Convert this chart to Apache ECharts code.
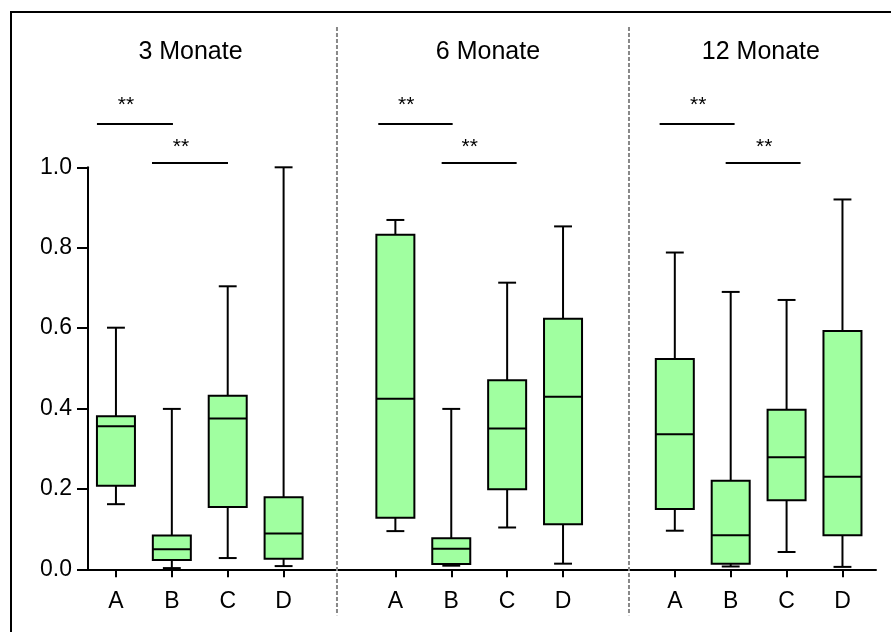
<!DOCTYPE html>
<html>
<head>
<meta charset="utf-8">
<script src="https://cdn.jsdelivr.net/npm/echarts@6/dist/echarts.min.js"></script>
<style>
  html, body { margin: 0; padding: 0; background: #fff; }
  #chart { width: 891px; height: 632px; }
</style>
</head>
<body>
<div id="chart"></div>
<script>
'use strict';

var groups = ['3 Monate', '6 Monate', '12 Monate'];
var categories = ['A', 'B', 'C', 'D'];
var groupStart = [0, 5, 10];
var yTicks = [0, 0.2, 0.4, 0.6, 0.8, 1.0];

// [min, q1, median, q3, max] for A..D
var box3 = [
  [0.162, 0.208, 0.356, 0.381, 0.601],
  [0.003, 0.023, 0.050, 0.084, 0.399],
  [0.028, 0.155, 0.375, 0.432, 0.704],
  [0.008, 0.026, 0.089, 0.179, 1.000]
];
var box6 = [
  [0.095, 0.128, 0.424, 0.832, 0.869],
  [0.009, 0.013, 0.051, 0.077, 0.399],
  [0.104, 0.199, 0.350, 0.470, 0.713],
  [0.014, 0.112, 0.429, 0.623, 0.853]
];
var box12 = [
  [0.096, 0.150, 0.336, 0.523, 0.788],
  [0.007, 0.014, 0.085, 0.220, 0.690],
  [0.043, 0.172, 0.279, 0.397, 0.670],
  [0.006, 0.085, 0.230, 0.593, 0.920]
];

// significance bars: [x from, x to, y]
var sigLines = [
  [-0.34, 1.02, 1.108], [0.645, 2.005, 1.011],
  [4.694, 6.025, 1.108], [5.828, 7.170, 1.011],
  [9.728, 11.07, 1.108], [10.91, 12.25, 1.011]
];
var sigStars = [
  [0.18, 1.166], [1.164, 1.063],
  [5.195, 1.166], [6.331, 1.063],
  [10.42, 1.166], [11.60, 1.063]
];
var separators = [[3.955, 1.349, -0.114], [9.18, 1.349, -0.114]];
var titlePos = [[1.334, 1.286], [6.657, 1.286], [11.54, 1.286]];

var boxData = [];
var tickPos = [];
[box3, box6, box12].forEach(function(g, gi){
  g.forEach(function(b, ci){
    var x = groupStart[gi] + ci;
    tickPos.push(x);
    boxData.push([x].concat(b));
  });
});

var black = {stroke: '#000', lineWidth: 2};
var font = 'Liberation Sans, Arial, sans-serif';

function renderBox(params, api){
  var x = api.value(0);
  var lo = api.coord([x, api.value(1)]);
  var q1 = api.coord([x, api.value(2)]);
  var med = api.coord([x, api.value(3)]);
  var q3 = api.coord([x, api.value(4)]);
  var hi = api.coord([x, api.value(5)]);
  var slot = api.size([1, 0])[0];
  var bw = slot * 0.68 / 2;
  var cw = slot * 0.32 / 2;
  var cx = lo[0];
  return {
    type: 'group',
    children: [
      {type: 'line', shape: {x1: cx, y1: hi[1], x2: cx, y2: q3[1]}, style: black},
      {type: 'line', shape: {x1: cx, y1: q1[1], x2: cx, y2: lo[1]}, style: black},
      {type: 'line', shape: {x1: cx - cw, y1: hi[1], x2: cx + cw, y2: hi[1]}, style: black},
      {type: 'line', shape: {x1: cx - cw, y1: lo[1], x2: cx + cw, y2: lo[1]}, style: black},
      {type: 'rect', shape: {x: cx - bw, y: q3[1], width: 2 * bw, height: q1[1] - q3[1]},
        style: {fill: '#a0ffa0', stroke: '#000', lineWidth: 2}},
      {type: 'line', shape: {x1: cx - bw, y1: med[1], x2: cx + bw, y2: med[1]}, style: black}
    ]
  };
}

var chart = echarts.init(document.getElementById('chart'));
var option = {
  animation: false,
  backgroundColor: '#fff',
  textStyle: {fontFamily: font},
  grid: {left: 88, right: 15, top: 167.3, bottom: 62.7},
  graphic: [
    {type: 'rect', shape: {x: 11, y: 12, width: 1000, height: 1000},
      style: {fill: 'none', stroke: '#000', lineWidth: 2}, silent: true}
  ],
  xAxis: {
    type: 'value',
    min: -0.5,
    max: 13.6,
    splitLine: {show: false},
    axisLine: {show: true, onZero: false, lineStyle: {color: '#000', width: 2}},
    axisTick: {show: true, customValues: tickPos, length: 8, lineStyle: {color: '#000', width: 2}},
    axisLabel: {
      customValues: tickPos,
      formatter: function(v){ return categories[Math.round(v) % 5]; },
      fontSize: 23, color: '#000', margin: 21
    }
  },
  yAxis: {
    type: 'value',
    min: 0,
    max: 1,
    interval: 0.2,
    splitLine: {show: false},
    axisLine: {show: true, onZero: false, lineStyle: {color: '#000', width: 2}},
    axisTick: {show: true, length: 11, lineStyle: {color: '#000', width: 2}},
    axisLabel: {
      customValues: yTicks,
      formatter: function(v){ return v.toFixed(1); },
      fontSize: 23, color: '#000', margin: 16
    }
  },
  series: [
    {
      type: 'custom',
      clip: false,
      silent: true,
      data: separators,
      renderItem: function(params, api){
        var a = api.coord([api.value(0), api.value(1)]);
        var b = api.coord([api.value(0), api.value(2)]);
        return {type: 'line', shape: {x1: a[0], y1: a[1], x2: b[0], y2: b[1]},
          style: {stroke: '#888', lineWidth: 2, lineDash: [4, 2]}};
      }
    },
    {
      type: 'custom',
      clip: false,
      silent: true,
      data: boxData,
      renderItem: renderBox
    },
    {
      type: 'custom',
      clip: false,
      silent: true,
      data: sigLines,
      renderItem: function(params, api){
        var a = api.coord([api.value(0), api.value(2)]);
        var b = api.coord([api.value(1), api.value(2)]);
        return {type: 'line', shape: {x1: a[0], y1: a[1], x2: b[0], y2: b[1]}, style: black};
      }
    },
    {
      type: 'custom',
      clip: false,
      silent: true,
      data: sigStars,
      renderItem: function(params, api){
        var p = api.coord([api.value(0), api.value(1)]);
        return {type: 'text', x: p[0], y: p[1] + 5,
          style: {text: '**', fill: '#000', fontSize: 21, align: 'center', verticalAlign: 'middle',
            fontFamily: font}};
      }
    },
    {
      type: 'custom',
      clip: false,
      silent: true,
      data: titlePos,
      renderItem: function(params, api){
        var p = api.coord([api.value(0), api.value(1)]);
        return {type: 'text', x: p[0], y: p[1],
          style: {text: groups[params.dataIndex], fill: '#000', fontSize: 25, align: 'center',
            verticalAlign: 'middle', fontFamily: font}};
      }
    }
  ]
};
chart.setOption(option);
</script>
</body>
</html>
